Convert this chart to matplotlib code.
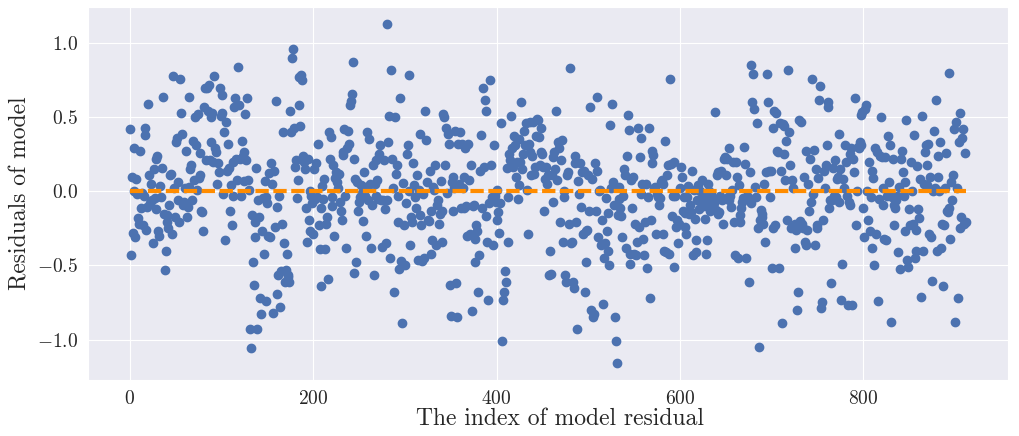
import numpy as np
import matplotlib.pyplot as plt
import seaborn as sns

# residuals, left to right, in chunks of ~90 indices
seg_a = [0.42, -0.43, 0.10, -0.28, 0.0, 0.29, -0.31, 0.085, -0.02, -0.18,
         -0.22, 0.27, -0.11, -0.01, -0.23, -0.03, 0.43, 0.38, -0.26, -0.105, 0.59,
         0.11, -0.08, 0.05, -0.06, -0.35, 0.15, -0.045, -0.12, 0.22, 0.24, -0.27,
         -0.30, 0.035, -0.04, 0.16, 0.64, -0.15, -0.53, -0.40, -0.16, -0.21, -0.25,
         -0.09, 0.11, 0.12, -0.29, 0.78, 0.025, -0.17, 0.33, 0.36, -0.06, 0.06, -0.21,
         0.76, 0.53, 0.39, -0.09, -0.07, 0.02, 0.27, -0.17, -0.105, 0.64, 0.03,
         0.15, 0.18, -0.06, 0.34, 0.08, 0.50, 0.31, 0.01, 0.52, 0.09, 0.26, 0.11,
         -0.13, -0.14, -0.27, 0.57, 0.70, 0.21]
seg_b = [0.70, 0.545, 0.72, 0.21, 0.50, 0.33, 0.53, 0.20, 0.78, 0.29,
         0.265, 0.05, 0.19, 0.13, 0.70, 0.51, 0.53, 0.65, -0.02, 0.40,
         -0.33, 0.47, 0.14, 0.32, 0.16, -0.13, 0.04, -0.23, 0.20, -0.03,
         0.57, 0.63, 0.22, 0.08, 0.84, 0.58, 0.22, -0.03, 0.34, 0.24,
         0.265, 0.07, 0.52, 0.215, 0.63, 0.075, 0.01, -0.93, -1.06, -0.16,
         -0.48, -0.63, -0.21, -0.31, 0.16, -0.93, -0.06, -0.17, -0.72, -0.83,
         -0.27, -0.045, -0.42, 0.07, -0.74, -0.04, -0.08, -0.30, 0.125, -0.31,
         0.19, 0.05, -0.82, 0.135, -0.24, 0.61, -0.69, -0.105, -0.565, -0.03,
         -0.78, -0.54, -0.22, 0.40, -0.35, -0.61, -0.53, -0.42, -0.565]
seg_c = [-0.575, -0.61, 0.545, 0.40, 0.90, 0.96, 0.43, 0.165, 0.215, -0.045,
         0.075, 0.58, 0.77, 0.44, 0.785, 0.75, 0.24, 0.20, 0.15, -0.11,
         -0.34, 0.22, -0.19, 0.0, -0.27, -0.03, -0.08, -0.29, 0.15, -0.05,
         0.19, -0.04, 0.32, -0.23, -0.39, -0.11, -0.64, 0.035, -0.05, 0.085,
         -0.39, -0.22, -0.17, -0.59, 0.40, 0.22, 0.365, -0.10, -0.04, 0.18,
         -0.30, 0.09, 0.13, 0.06, 0.02, 0.12, -0.07, -0.135, -0.19, 0.245,
         0.265, 0.42, -0.03, -0.38, 0.29, 0.41, 0.32, 0.58, 0.61, 0.66,
         0.875, 0.22, -0.55, 0.085, -0.48, 0.06, -0.13, -0.07, -0.04, 0.04,
         -0.01, -0.20, 0.13, 0.03, -0.03, -0.30, 0.40, -0.06, 0.355, 0.05, -0.38]
seg_d = [-0.095, 0.18, -0.565, 0.05, 0.21, -0.03, 0.08, -0.05, 0.25, 0.31, -0.06,
         -0.375, -0.06, 0.215, -0.12, -0.35, -0.06, 1.13, 0.33, 0.51, -0.45, 0.82,
         0.22, 0.02, -0.68, 0.50, 0.12, 0.175, -0.21, -0.03, -0.525, 0.63, -0.47,
         -0.89, 0.055, -0.23, -0.50, -0.08, 0.25, 0.31, 0.0, 0.785, -0.36, -0.17,
         -0.21, 0.19, 0.04, -0.04, -0.11, 0.11, -0.46, 0.01, 0.39, -0.16, -0.23,
         -0.47, -0.02, -0.45, 0.545, 0.35, 0.06, -0.195, -0.20, 0.14, -0.135, -0.42, -0.33,
         0.03, 0.01, 0.18, -0.36, -0.09, -0.06, -0.22, -0.15, 0.07, -0.34, -0.13, 0.52,
         0.50, 0.18, 0.425, -0.01, 0.39, 0.32, -0.63, -0.84, 0.06, 0.10, -0.13, 0.02]
seg_e = [0.41, -0.62, -0.845, 0.32, 0.05, 0.40, -0.115, 0.32, 0.02, 0.10,
         -0.115, 0.29, -0.10, -0.30, 0.32, 0.08, -0.285, 0.175, -0.81, -0.10,
         -0.09, -0.32, -0.48, -0.23, -0.27, -0.68, -0.43, 0.135, 0.38, -0.115,
         0.695, 0.165, 0.62, -0.165, 0.545, -0.34, -0.73, -0.08, 0.75, 0.175,
         -0.04, -0.36, 0.31, -0.03, -0.07, 0.01, -0.195, -0.14, -0.28, -0.08, 0.46,
         -1.01, -0.73, -0.68, -0.54, -0.61, 0.16, -0.04, -0.34, 0.25, 0.21,
         0.51, 0.29, 0.165, 0.375, 0.31, 0.10, 0.20, -0.05, 0.04, 0.355, 0.20,
         0.605, 0.15, 0.25, 0.41, 0.31, 0.46, 0.01, -0.29, 0.32, 0.465,
         0.265, 0.11, 0.24, 0.47, 0.12, 0.165, 0.375, 0.49]
seg_f = [0.48, 0.37, 0.175, 0.43, 0.265, 0.25, 0.165, -0.13, 0.085, 0.165,
         0.05, 0.11, -0.565, -0.40, -0.56, 0.11, 0.23, -0.07, 0.265, 0.15,
         0.54, 0.075, 0.335, 0.29, -0.21, 0.215, 0.35, -0.34, -0.04, 0.0,
         -0.565, -0.61, 0.11, 0.13, -0.22, 0.83, -0.35, -0.34, -0.61, -0.65,
         0.24, 0.19, -0.21, -0.93, 0.07, -0.015, 0.19, -0.105, 0.13, -0.285,
         0.14, -0.68, -0.27, -0.48, -0.26, 0.11, -0.135, 0.57, -0.80, 0.085,
         -0.845, -0.83, 0.19, -0.135, 0.14, 0.635, -0.31, 0.0, 0.01, -0.36,
         -0.19, -0.76, -0.45, -0.35, -0.045, -0.27, -0.40, -0.145, -0.50, 0.445,
         0.02, 0.59, 0.06, -0.09, -0.845, -1.01, -1.16, -0.16, -0.05, 0.03, -0.11]
seg_g = [-0.165, -0.31, -0.03, 0.15, 0.11, -0.38, 0.24, 0.515, 0.415, -0.42,
         -0.49, 0.075, -0.11, 0.10, -0.42, -0.22, -0.43, -0.34, 0.425, -0.24,
         0.23, 0.36, -0.015, 0.05, -0.32, -0.43, -0.21, 0.05, -0.52, -0.04,
         0.425, -0.72, -0.195, 0.19, 0.27, 0.245, 0.02, 0.03, -0.285, -0.015,
         -0.04, -0.09, -0.045, 0.06, 0.075, -0.285, 0.05, -0.40, 0.34, -0.41,
         0.11, 0.18, -0.42, 0.76, 0.185, -0.165, -0.03, 0.20, -0.51, -0.03,
         -0.24, -0.19, -0.35, -0.22, 0.02, 0.165, 0.10, -0.135, -0.04, -0.24,
         -0.145, -0.29, -0.04, 0.035, -0.15, -0.095, -0.14, 0.14, -0.43, 0.01,
         -0.185, -0.41, -0.33, -0.06, 0.04, -0.12, 0.0, -0.07, 0.08, -0.02, -0.10]
seg_h = [-0.185, -0.42, -0.06, -0.33, 0.05, 0.0, -0.135, -0.02, -0.105, -0.05,
         -0.08, 0.535, -0.125, 0.11, -0.15, 0.13, -0.14, -0.03, 0.14, -0.06,
         -0.22, 0.22, 0.23, 0.11, 0.22, -0.04, -0.06, 0.29, -0.03, -0.105,
         0.01, 0.20, -0.21, -0.43, 0.20, 0.10, -0.45, 0.045, -0.21, -0.16,
         -0.11, -0.075, -0.045, 0.30, 0.185, -0.45, -0.03, -0.04, -0.61, 0.13,
         -0.08, 0.85, 0.605, 0.79, 0.555, 0.03, -0.04, 0.46, -0.25, -1.05,
         -0.19, -0.125, -0.155, -0.17, -0.22, 0.05, -0.34, 0.13, 0.79, 0.60,
         0.135, -0.04, 0.135, -0.52, -0.245, 0.425, 0.545, -0.23, 0.53, 0.275,
         0.265, -0.52, 0.46, 0.14, -0.89, 0.455, 0.25, 0.44, 0.08, 0.34,
         -0.19, 0.82, 0.40]
seg_i = [0.18, -0.245, 0.08, 0.02, -0.25, -0.385,
         -0.22, -0.26, -0.80, -0.68, 0.48, -0.20, 0.47, -0.22, -0.25, 0.10,
         -0.34, 0.27, -0.36, -0.26, 0.05, -0.135, 0.22, -0.07, 0.76, -0.015,
         0.28, -0.36, 0.15, -0.23, -0.245, 0.09, 0.62, 0.71, -0.79, -0.75,
         -0.195, 0.135, 0.02, 0.175, 0.31, 0.60, 0.57, -0.11, -0.06, -0.62,
         -0.06, 0.16, -0.03, 0.215, -0.04, 0.085, 0.10, -0.07, 0.39, 0.15,
         -0.73, -0.49, 0.085, 0.02, 0.31, 0.20, -0.03, -0.77, -0.075, -0.09,
         0.25, 0.29, -0.77, 0.22, 0.13, 0.63, -0.23, 0.0, 0.30, 0.29,
         0.335, 0.515, 0.31, 0.535, -0.11, -0.31, 0.555, 0.58, 0.0, -0.19,
         0.20, -0.27, -0.04]
seg_j = [0.135, -0.385, 0.09, -0.50, 0.29, -0.285, 0.265, -0.74, -0.05, 0.24,
         0.505, 0.23, -0.095, 0.02, -0.32, 0.23, -0.33, -0.03, 0.375, 0.065,
         0.31, -0.88, -0.04, 0.22, -0.09, -0.23, -0.11, -0.055, -0.03, -0.41,
         0.03, -0.525, 0.22, 0.275, 0.13, -0.03, -0.27, 0.06, 0.485, -0.46,
         -0.51, -0.12, -0.23, 0.20, 0.0, -0.22, 0.38, -0.45, -0.26, -0.40,
         0.17, -0.12, -0.18, 0.085, -0.71, 0.51, -0.40, 0.05, 0.265, 0.31,
         0.04, 0.18, 0.32, -0.285, 0.095, -0.31, -0.605, 0.0, 0.41, 0.02,
         0.62, -0.40, 0.095, 0.24, 0.0, 0.33, -0.385, -0.22, -0.64, -0.23,
         0.02, 0.26, -0.13, -0.14, 0.80, -0.115, -0.32, 0.06, -0.06, 0.11]
seg_k = [0.42, -0.88, 0.47, 0.02, -0.72, 0.33, -0.25, 0.53, -0.17, 0.36,
         0.42, -0.22, 0.26, -0.21]

residuals = np.array(seg_a + seg_b + seg_c + seg_d + seg_e + seg_f
                     + seg_g + seg_h + seg_i + seg_j + seg_k)
index = np.arange(len(residuals))

sns.set_style('darkgrid')
plt.rcParams['font.family'] = 'serif'
plt.rcParams['font.serif'] = ['cmr10']
plt.rcParams['mathtext.fontset'] = 'cm'
plt.rcParams['axes.formatter.use_mathtext'] = True

fig, ax = plt.subplots(figsize=(10.19, 4.36), dpi=100)
ax.scatter(index, residuals, s=36, color='#4c72b0', zorder=2)
ax.plot(index, np.zeros(len(index)), color='darkorange', lw=3,
        dashes=(3.2, 1.1), zorder=3)
ax.set_xlabel('The index of model residual', fontsize=17)
ax.set_ylabel('Residuals of model', fontsize=17)
ax.xaxis.set_label_coords(0.513, -0.075)
ax.tick_params(labelsize=14)
fig.subplots_adjust(left=0.0864, right=0.989, bottom=0.128, top=0.984)
fig.savefig('out.png', dpi=100)
